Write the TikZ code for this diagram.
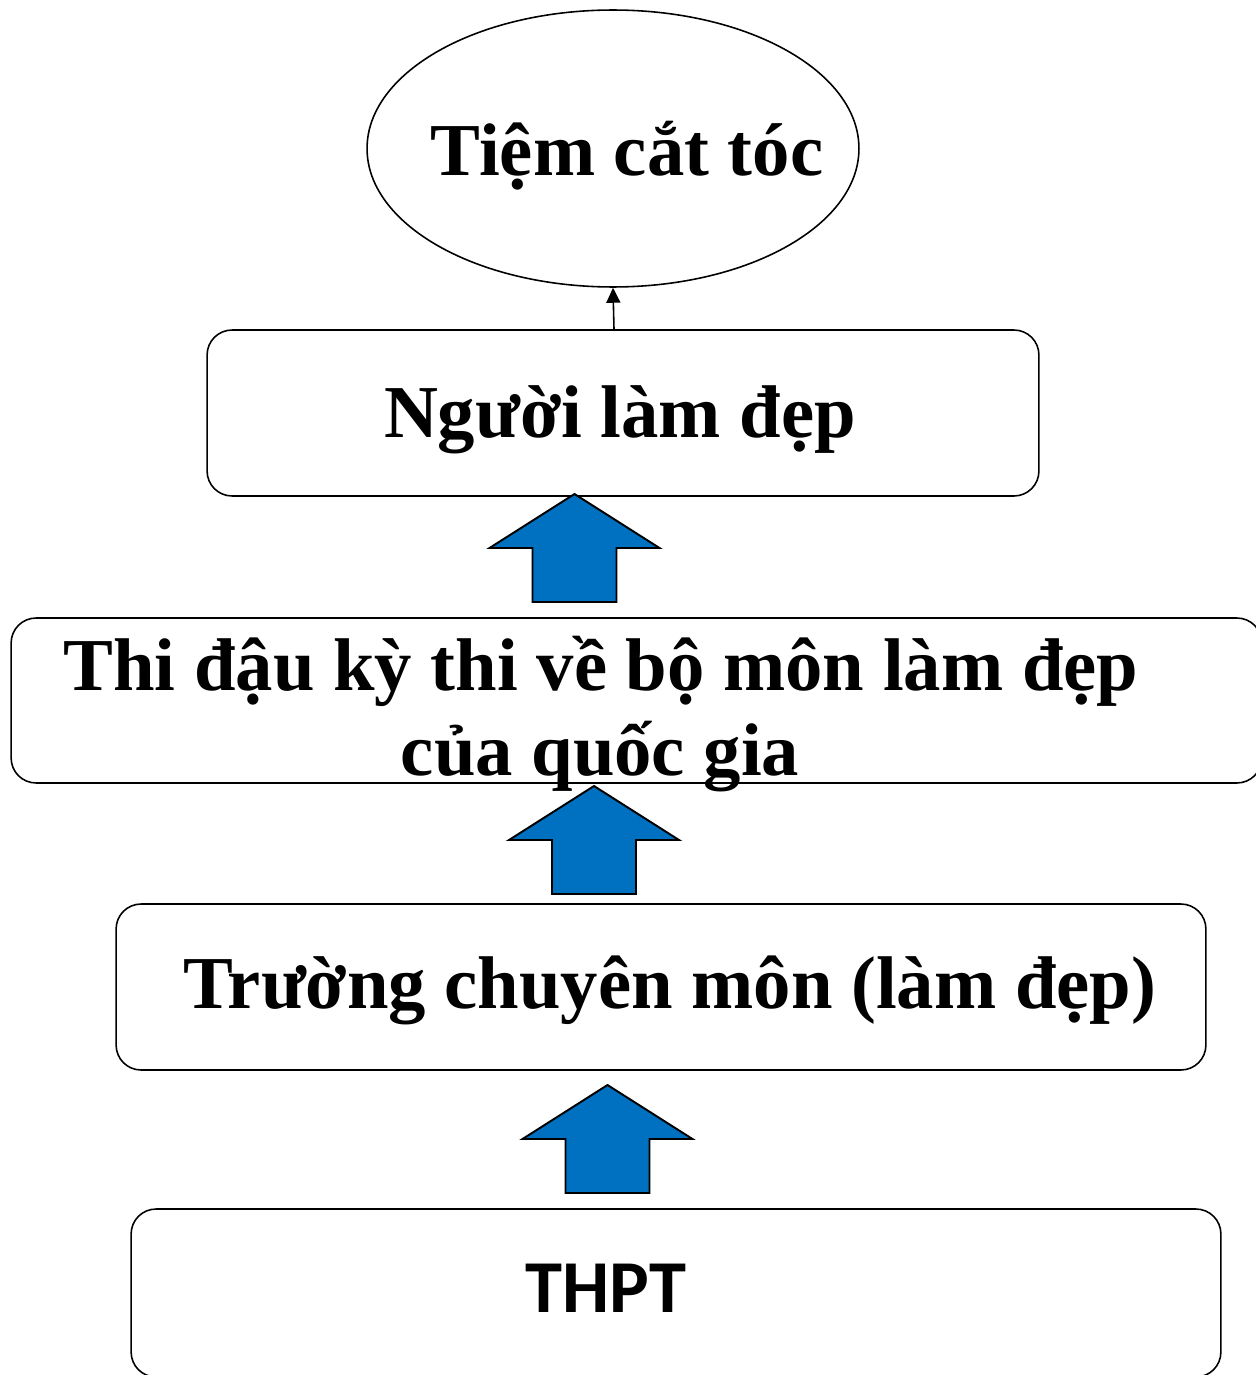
\documentclass[tikz,border=0pt]{standalone}
\usepackage{fontspec}
\setmainfont{Liberation Serif}
\newfontfamily\calibrifont{Carlito}
\usetikzlibrary{arrows.meta,shapes.geometric}
\definecolor{officeblue}{HTML}{0070C0}
\tikzset{
  box/.style={draw=black, line width=0.9pt, rounded corners=0.5cm, inner sep=0pt, minimum height=3.32cm},
  oval/.style={draw=black, line width=0.9pt, ellipse, inner sep=0pt, minimum width=9.84cm, minimum height=5.54cm},
  lbl/.style={anchor=base, inner sep=0pt, font=\fontsize{42.5}{48}\selectfont\bfseries},
  thin arrow/.style={line width=0.9pt, -{Triangle[width=0.28cm,length=0.3cm]}},
  blockarrow/.style={fill=officeblue, draw=black, line width=1.1pt, line join=miter},
  pics/uparrow/.style={code={
    \path[blockarrow] (0,0) -- (85,54) -- (42,54) -- (42,108) -- (-42,108) -- (-42,54) -- (-85,54) -- cycle;
  }}
}
\begin{document}
\begin{tikzpicture}[x=0.02cm, y=-0.02cm]
\useasboundingbox (0,0) rectangle (1256,1375);
% shop ellipse
\node[oval] (shop) at (613,148.5) {};
\node[lbl] (shoptxt) at (627,175) {Tiệm cắt tóc};
% boxes
\node[box, minimum width=16.64cm] (b1) at (623,413) {};
\node[lbl] (b1txt) at (620,437) {Người làm đẹp};
\node[box, minimum width=25.02cm, minimum height=3.30cm] (b2) at (636.5,700.5) {};
\node[lbl] (b2txta) at (601,690) {Thi đậu kỳ thi về bộ môn làm đẹp};
\node[lbl] (b2txtb) at (600,775) {của quốc gia};
\node[box, minimum width=21.8cm] (b3) at (661,987) {};
\node[lbl] (b3txt) at (670,1008) {Trường chuyên môn (làm đẹp)};
\node[box, minimum width=21.8cm, minimum height=3.36cm] (b4) at (676,1293) {};
\node[lbl, font=\fontsize{42.5}{48}\selectfont\calibrifont\bfseries] (b4txt) at (606,1312) {THPT};
% thin arrow
\draw[thin arrow] (b1.north -| 614,0) -- (shop.south);
% block arrows
\pic at (574.5,494) {uparrow};
\pic at (594,786) {uparrow};
\pic at (607.5,1085) {uparrow};
\end{tikzpicture}
\end{document}
